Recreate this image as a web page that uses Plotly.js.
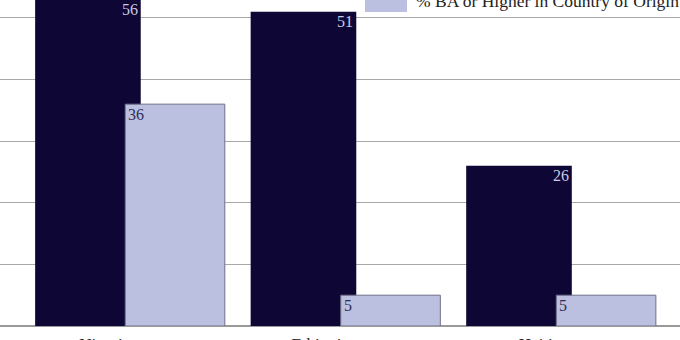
<!DOCTYPE html>
<html>
<head>
<meta charset="utf-8">
<script src="https://cdn.plot.ly/plotly-3.0.1.min.js"></script>
<style>
html,body{margin:0;padding:0;background:#fff;overflow:hidden;}
#chart{width:680px;height:340px;}
</style>
</head>
<body>
<div id="chart"></div>
<script>
// ---- data ----
const categories = ["Nigeria", "Ethiopia", "Haiti"];
const seriesNames = ["% BA or Higher in the United States", "% BA or Higher in Country of Origin"];
const usValues = [56, 51, 26];
const originValues = [36, 5, 5];

// ---- styling / geometry ----
const darkColor = "#0e0634";
const lightColor = "#bbc0e1";
const serif = "Liberation Serif, 'DejaVu Serif', serif";
const yMax = 52.9;
const darkOffset = -0.443, darkWidth = 0.49;
const lightOffset = -0.025, lightWidth = 0.462;
const xs = categories.map((c, i) => i);

const traces = [
  {
    type: "bar", name: seriesNames[0], x: xs, y: usValues,
    offset: darkOffset, width: darkWidth,
    marker: {color: darkColor, line: {width: 0}},
    showlegend: false, hoverinfo: "skip"
  },
  {
    type: "bar", name: seriesNames[1], x: xs, y: originValues,
    offset: lightOffset, width: lightWidth,
    marker: {color: lightColor, line: {color: "#6f6f88", width: 1}},
    showlegend: false, hoverinfo: "skip"
  }
];

const annotations = [];
usValues.forEach((v, i) => {
  annotations.push({
    x: xs[i] + darkOffset + darkWidth, y: Math.min(v, yMax), xref: "x", yref: "y",
    text: String(v), showarrow: false, xanchor: "right", yanchor: "top",
    xshift: -1, yshift: 1,
    font: {family: serif, size: 16, color: "#c9c9e6"}
  });
});
originValues.forEach((v, i) => {
  annotations.push({
    x: xs[i] + lightOffset, y: Math.min(v, yMax), xref: "x", yref: "y",
    text: String(v), showarrow: false, xanchor: "left", yanchor: "top",
    xshift: 1, yshift: 0,
    font: {family: serif, size: 16, color: "#2e2e55"}
  });
});
// legend entry (top right, partially cropped)
annotations.push({
  x: 414 / 680, y: 0.960, xref: "paper", yref: "paper",
  text: seriesNames[1], showarrow: false, xanchor: "left", yanchor: "bottom",
  font: {family: serif, size: 17.5, color: "#222222"}
});

const layout = {
  width: 680, height: 340,
  margin: {l: 0, r: 0, t: 0, b: 14, pad: 0},
  paper_bgcolor: "#ffffff", plot_bgcolor: "#ffffff",
  barmode: "overlay",
  showlegend: false,
  xaxis: {
    range: [-0.606, 2.549], tickmode: "array", tickvals: xs.map(v => v - 0.12), ticktext: categories,
    showgrid: false, zeroline: false, showline: false, ticks: "",
    ticklabelstandoff: 6,
    tickfont: {family: serif, size: 17, color: "#222"}
  },
  yaxis: {
    range: [0, yMax], dtick: 10, showgrid: true, gridcolor: "#a8a8a8", gridwidth: 1,
    zeroline: true, zerolinecolor: "#9a9a9a", zerolinewidth: 2,
    showticklabels: false, ticks: "", showline: false
  },
  shapes: [
    {type: "rect", xref: "paper", yref: "paper", x0: 365 / 680, x1: 407 / 680,
     y0: 1 - 12 / 326, y1: 1.05, fillcolor: lightColor, line: {width: 0}}
  ],
  annotations: annotations
};

Plotly.newPlot("chart", traces, layout, {displayModeBar: false, staticPlot: true});
</script>
</body>
</html>
